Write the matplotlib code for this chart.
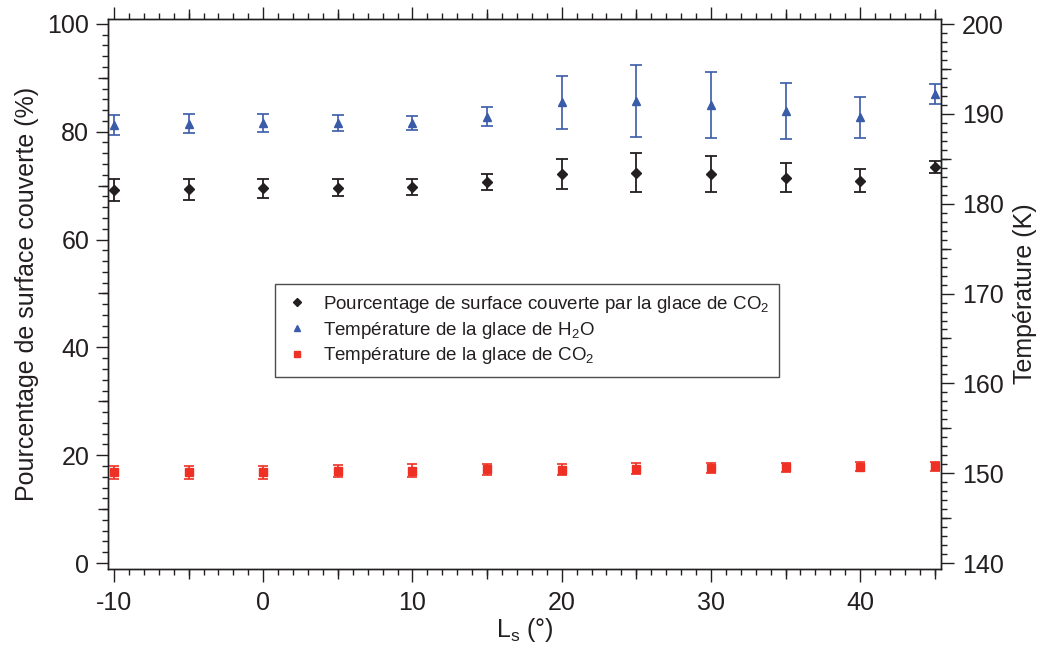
import matplotlib
matplotlib.use('Agg')
import matplotlib.pyplot as plt
from matplotlib.lines import Line2D
from matplotlib.ticker import MultipleLocator, NullFormatter

plt.rcParams['font.family'] = ['Liberation Sans', 'DejaVu Sans']
plt.rcParams['mathtext.fontset'] = 'custom'
plt.rcParams['mathtext.rm'] = 'Liberation Sans'
plt.rcParams['mathtext.it'] = 'Liberation Sans'
plt.rcParams['mathtext.bf'] = 'Liberation Sans:bold'
plt.rcParams['axes.unicode_minus'] = False

# data
ls = [-10, -5, 0, 5, 10, 15, 20, 25, 30, 35, 40, 45]
couvert = [69.2, 69.3, 69.5, 69.6, 69.8, 70.6, 72.2, 72.4, 72.1, 71.5, 70.9, 73.5]
couvert_err = [2.0, 1.95, 1.8, 1.6, 1.45, 1.5, 2.8, 3.65, 3.35, 2.7, 2.1, 1.1]
t_h2o = [188.8, 188.9, 189.0, 189.0, 189.0, 189.7, 191.3, 191.4, 191.0, 190.3, 189.6, 192.25]
t_h2o_err = [1.1, 1.05, 1.0, 0.9, 0.8, 1.07, 2.97, 4.0, 3.7, 3.13, 2.3, 1.1]
t_co2 = [150.1, 150.1, 150.1, 150.2, 150.3, 150.45, 150.4, 150.5, 150.6, 150.65, 150.7, 150.8]
t_co2_err = [0.76, 0.74, 0.7, 0.67, 0.69, 0.63, 0.63, 0.63, 0.55, 0.5, 0.5, 0.5]

noir = '#231f20'
bleu = '#3a5ba8'
rouge = '#ee3124'

fig = plt.figure(figsize=(10.37, 6.48), dpi=100)
ax = fig.add_axes([108 / 1037, 79 / 648, 833 / 1037, 550 / 648])
ax2 = ax.twinx()

# points
ax.errorbar(ls, couvert, yerr=couvert_err, fmt='D', color=noir, ms=5,
            elinewidth=1.3, capsize=4.5, capthick=1.3)
ax2.errorbar(ls, t_h2o, yerr=t_h2o_err, fmt='^', color=bleu, ms=6,
             elinewidth=1.2, capsize=4.2, capthick=1.2)
ax2.errorbar(ls, t_co2, yerr=t_co2_err, fmt='s', color=rouge, ms=6,
             elinewidth=1.2, capsize=3.8, capthick=1.2, mec=rouge)

ax.set_xlim(-10.4, 45.42)
ax.set_ylim(-1.1, 100.9)
ax2.set_ylim(139.34, 200.56)

# ticks
for a in (ax, ax2):
    for s in a.spines.values():
        s.set_linewidth(1.0)
        s.set_color(noir)

ax.xaxis.set_major_locator(MultipleLocator(10))
ax.xaxis.set_minor_locator(MultipleLocator(1))
ax.yaxis.set_major_locator(MultipleLocator(20))
ax.yaxis.set_minor_locator(MultipleLocator(2))
ax2.yaxis.set_major_locator(MultipleLocator(10))
ax2.yaxis.set_minor_locator(MultipleLocator(1))

ax.tick_params(axis='both', which='major', direction='out', length=9, width=1.0,
               labelsize=18, colors=noir)
ax.tick_params(axis='both', which='minor', direction='out', length=4.3, width=1.0, colors=noir)
ax.tick_params(axis='x', which='both', top=True, labeltop=False)
ax.tick_params(axis='x', which='major', pad=6.5)
ax.tick_params(axis='y', which='major', pad=4.5)
ax2.tick_params(axis='y', which='major', direction='out', length=9, width=1.0,
                labelsize=18, colors=noir, pad=6)
ax2.tick_params(axis='y', which='minor', direction='out', length=4.3, width=1.0, colors=noir)

# medium ticks
def ticks_moyens(sec, pos, axis):
    for s in sec.spines.values():
        s.set_visible(False)
    if axis == 'x':
        sec.set_xticks(pos)
        sec.xaxis.set_major_formatter(NullFormatter())
        sec.xaxis.set_minor_locator(plt.NullLocator())
    else:
        sec.set_yticks(pos)
        sec.yaxis.set_major_formatter(NullFormatter())
        sec.yaxis.set_minor_locator(plt.NullLocator())
    sec.tick_params(which='major', direction='out', length=7, width=1.0, colors=noir)

ticks_moyens(ax.secondary_xaxis('bottom'), [-5, 5, 15, 25, 35, 45], 'x')
ticks_moyens(ax.secondary_xaxis('top'), [-5, 5, 15, 25, 35, 45], 'x')
ticks_moyens(ax.secondary_yaxis('left'), [10, 30, 50, 70, 90], 'y')
ticks_moyens(ax2.secondary_yaxis('right'), [145, 155, 165, 175, 185, 195], 'y')

ax.set_xlabel(r'L$_{\mathrm{s}}$ (°)', fontsize=18, color=noir, labelpad=1)
ax.set_ylabel('Pourcentage de surface couverte (%)', fontsize=18, color=noir, labelpad=6)
ax2.set_ylabel('Température (K)', fontsize=18, color=noir, labelpad=7)

# legend
poignees = [
    Line2D([], [], ls='none', marker='D', color=noir, ms=4),
    Line2D([], [], ls='none', marker='^', color=bleu, ms=5),
    Line2D([], [], ls='none', marker='s', color=rouge, ms=5),
]
noms = [
    r'Pourcentage de surface couverte par la glace de CO$_2$',
    r'Température de la glace de H$_2$O',
    r'Température de la glace de CO$_2$',
]
leg = ax2.legend(poignees, noms, loc='upper left', bbox_to_anchor=(0.2005, 0.519),
                 borderaxespad=0, fontsize=13.5, frameon=True, fancybox=False,
                 edgecolor=noir, handlelength=1.2, handletextpad=0.79,
                 borderpad=0.55, labelspacing=0.25, labelcolor=noir)
leg.get_frame().set_linewidth(1.0)

fig.savefig('out.png', dpi=100)
